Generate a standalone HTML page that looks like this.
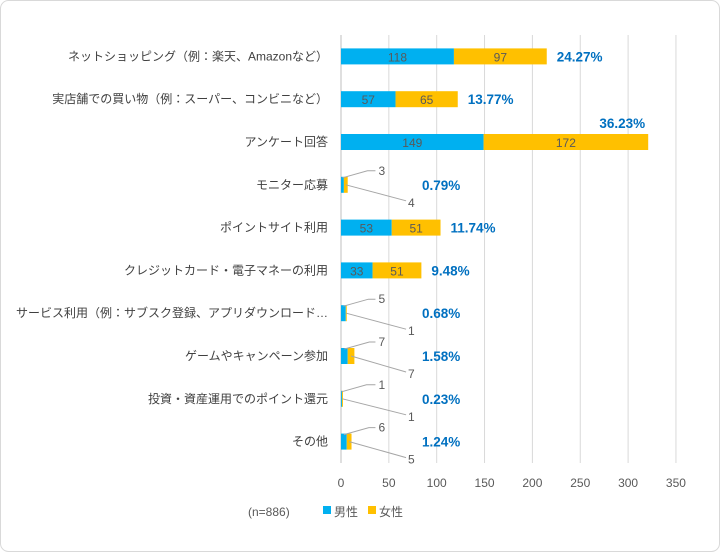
<!DOCTYPE html>
<html><head><meta charset="utf-8"><style>
body{margin:0;background:#fff;}
svg{display:block;font-family:"Liberation Sans","Noto Sans CJK JP",sans-serif;}
</style></head><body>
<svg id="c" width="720" height="552">
<rect x="0.5" y="0.5" width="719" height="551" rx="8" fill="#fff" stroke="#d9d9d9"/>
</svg>
<script>
const categories=["ネットショッピング（例：楽天、Amazonなど）","実店舗での買い物（例：スーパー、コンビニなど）","アンケート回答","モニター応募","ポイントサイト利用","クレジットカード・電子マネーの利用","サービス利用（例：サブスク登録、アプリダウンロード…","ゲームやキャンペーン参加","投資・資産運用でのポイント還元","その他"];
const male=[118,57,149,3,53,33,5,7,1,6];
const female=[97,65,172,4,51,51,1,7,1,5];
const pct=["24.27%","13.77%","36.23%","0.79%","11.74%","9.48%","0.68%","1.58%","0.23%","1.24%"];
const ticks=[0,50,100,150,200,250,300,350];
const svg=document.getElementById('c');
const NS='http://www.w3.org/2000/svg';
const x0=341,pxu=0.957,top0=35,rowH=42.8,barH=16,axisB=463;
const X=v=>x0+v*pxu;
const Y=i=>top0+rowH*(i+0.5);
function mk(t,a,txt){const e=document.createElementNS(NS,t);for(const k in a)e.setAttribute(k,a[k]);if(txt!==undefined)e.textContent=txt;svg.appendChild(e);return e;}
ticks.forEach(t=>{
 const g=mk('line',{x1:X(t),x2:X(t),y1:top0,y2:axisB,stroke:t===0?'#bfbfbf':'#d9d9d9','stroke-width':1});
 
 
 const l=mk('text',{x:X(t),y:487,'text-anchor':'middle','font-size':12,fill:'#595959'},t);
 
 
});
categories.forEach((c,i)=>{
 const y=Y(i);
 const lab=mk('text',{x:328,y:y+4,'text-anchor':'end','font-size':12,fill:'#404040'},c);
 
 
 const m=mk('rect',{x:X(0),y:y-barH/2,width:male[i]*pxu,height:barH,fill:'#00b0f0'});
 
 
 const f=mk('rect',{x:X(male[i]),y:y-barH/2,width:female[i]*pxu,height:barH,fill:'#ffc000'});
 
 
 const end=X(male[i]+female[i]);
 if(male[i]+female[i]>30){
  const a=mk('text',{x:X(male[i]/2),y:y+5,'text-anchor':'middle','font-size':12,fill:'#595959'},male[i]);
  
  
  const b=mk('text',{x:X(male[i]+female[i]/2),y:y+5,'text-anchor':'middle','font-size':12,fill:'#595959'},female[i]);
  
  
 }else{
  const mx=X(male[i]/2),fx=X(male[i]+female[i]/2);
  const l1=mk('polyline',{points:`${mx},${y-7} ${mx+25},${y-14} ${X(36)},${y-14}`,fill:'none',stroke:'#a6a6a6'});
  
  
  const a=mk('text',{x:X(36)+3,y:y-10,'font-size':12,fill:'#595959'},male[i]);
  
  
  const l2=mk('polyline',{points:`${fx},${y} ${X(68)},${y+16}`,fill:'none',stroke:'#a6a6a6'});
  
  
  const b=mk('text',{x:X(70),y:y+22,'font-size':12,fill:'#595959'},female[i]);
  
  
 }
 let px=Math.max(end+10,422),py=y+5,anchor='start';
 if(X(male[i]+female[i])>600){px=end-3;py=y-14;anchor='end';}
 const p=mk('text',{x:px,y:py,'text-anchor':anchor,'font-size':13.5,'font-weight':'bold',fill:'#0070c0'},pct[i]);
 
 
});
const n=mk('text',{x:248,y:516,'font-size':12,fill:'#595959'},'(n=886)');


const k1=mk('rect',{x:323,y:506,width:8,height:8,fill:'#00b0f0'});


const t1=mk('text',{x:334,y:516,'font-size':12,fill:'#595959'},'男性');


const k2=mk('rect',{x:368,y:506,width:8,height:8,fill:'#ffc000'});


const t2=mk('text',{x:379,y:516,'font-size':12,fill:'#595959'},'女性');


</script>
</body></html>
